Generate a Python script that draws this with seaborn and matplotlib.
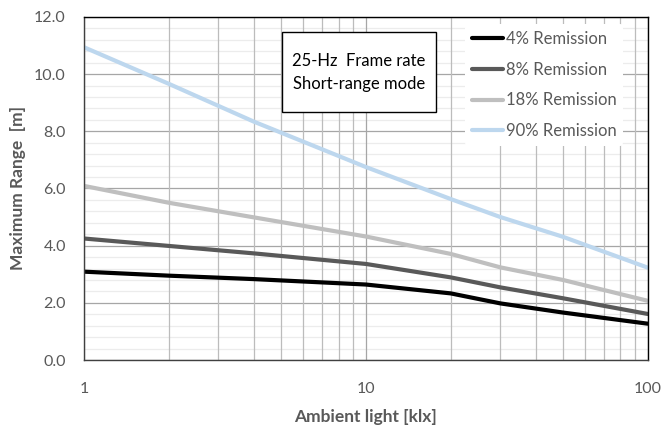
import pandas as pd
import matplotlib.pyplot as plt
import seaborn as sns
from matplotlib.patches import Rectangle
from matplotlib.ticker import FixedLocator, NullFormatter, MultipleLocator

# values
ambient_klx = [1, 2, 4, 10, 20, 30, 50, 100]
range_4 = [3.09, 2.95, 2.83, 2.64, 2.33, 1.98, 1.66, 1.27]
range_8 = [4.25, 3.99, 3.73, 3.36, 2.89, 2.54, 2.16, 1.61]
range_18 = [6.09, 5.50, 4.99, 4.32, 3.71, 3.24, 2.80, 2.07]
range_90 = [10.94, 9.66, 8.34, 6.75, 5.63, 5.00, 4.31, 3.23]

series_names = ['4% Remission', '8% Remission', '18% Remission', '90% Remission']
series_colors = ['#000000', '#595959', '#bfbfbf', '#bdd7ee']

frames = []
for name, vals in zip(series_names, [range_4, range_8, range_18, range_90]):
    frames.append(pd.DataFrame({'klx': ambient_klx, 'range': vals, 'series': name}))
df = pd.concat(frames, ignore_index=True)

sns.set_style('white')
plt.rcParams['font.family'] = ['Lato', 'DejaVu Sans']
text_col = '#595959'

fig = plt.figure(figsize=(6.61, 4.34), dpi=100)
ax = fig.add_axes([0.127, 0.1705, 0.853, 0.7905])

sns.lineplot(data=df, x='klx', y='range', hue='series', palette=series_colors,
             hue_order=series_names, linewidth=3, ax=ax, zorder=3)

ax.set_xscale('log')
ax.set_xlim(1, 100)
ax.set_ylim(0, 12)

# grid
ax.xaxis.set_major_locator(FixedLocator([1, 10, 100]))
ax.xaxis.set_minor_locator(FixedLocator([m * d for d in (1, 10) for m in range(2, 10)]))
ax.xaxis.set_minor_formatter(NullFormatter())
ax.set_xticklabels(['1', '10', '100'])
ax.yaxis.set_major_locator(MultipleLocator(2))
ax.yaxis.set_minor_locator(MultipleLocator(0.4))
ax.yaxis.set_major_formatter(plt.FuncFormatter(lambda v, p: f'{v:.1f}'))
ax.grid(which='major', axis='both', color='#a6a6a6', linewidth=0.9)
ax.grid(which='minor', axis='x', color='#bcbcbc', linewidth=0.9)
ax.grid(which='minor', axis='y', color='#ececec', linewidth=0.9)
ax.set_axisbelow(True)
# vertical grid lines on top of the faint horizontal ones
ax.yaxis.set_zorder(0.4)
ax.xaxis.set_zorder(0.6)

ax.tick_params(which='both', length=0)
ax.tick_params(axis='both', labelsize=11.5, colors=text_col)
ax.tick_params(axis='x', pad=16)
ax.tick_params(axis='y', pad=13)

for side in ['left', 'bottom']:
    ax.spines[side].set_color('#404040')
for side in ['top', 'right']:
    ax.spines[side].set_color('#000000')
for sp in ax.spines.values():
    sp.set_linewidth(1.0)
    sp.set_zorder(4)

ax.set_xlabel('Ambient light [klx]', fontsize=12.5, fontweight='bold', color=text_col, labelpad=9)
ax.set_ylabel('Maximum Range  [m]', fontsize=12.5, fontweight='bold', color=text_col, labelpad=6)

leg = ax.legend(loc='upper left', bbox_to_anchor=(0.676, 0.978), frameon=True, fontsize=12,
                handlelength=1.9, handletextpad=0.15, labelspacing=0.88, borderaxespad=0,
                borderpad=0.4)
leg.get_frame().set_facecolor('white')
leg.get_frame().set_edgecolor('none')
leg.get_frame().set_alpha(1)
for t in leg.get_texts():
    t.set_color(text_col)

ax.add_patch(Rectangle((0.351, 0.723), 0.273, 0.233, transform=ax.transAxes,
                       facecolor='white', edgecolor='black', linewidth=1.0, zorder=5))
ax.text(0.488, 0.837, '25-Hz  Frame rate\nShort-range mode', transform=ax.transAxes,
        ha='center', va='center', fontsize=12, color='#000000', linespacing=1.55, zorder=6)

fig.savefig('out.png', dpi=100)
